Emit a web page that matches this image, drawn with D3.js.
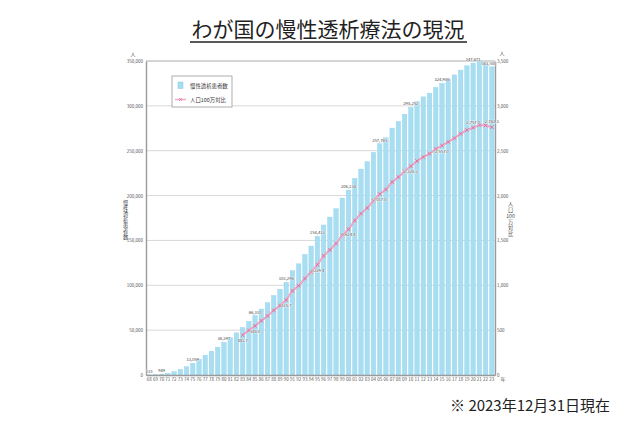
<!DOCTYPE html>
<html><head><meta charset="utf-8">
<script src="https://cdn.jsdelivr.net/npm/d3@7"></script>
<style>
body{margin:0;background:#fff;}
text{font-family:"Noto Sans CJK JP","Noto Sans",sans-serif;}
</style></head>
<body><svg id="c" width="640" height="427"></svg>
<script>
const years = d3.range(1968, 2024);
const patients = [215, 560, 949, 1800, 3600, 6200, 9300, 13059, 17500, 22000, 26500, 31000, 36397, 41500, 47000,
  53017, 59811, 66310, 73537, 80553, 88534, 95500, 103296, 116303, 123926, 134298, 143709, 154413, 167192, 175988,
  185322, 197213, 206134, 219183, 229538, 237710, 248166, 257765, 264473, 275242, 282622, 290661, 298252, 304856,
  310007, 314180, 320448, 324986, 329609, 334505, 339841, 344640, 347671, 349700, 347474, 343508];
const rateYears = d3.range(1983, 2024);
const perMillion = [443.7, 497.2, 548.0, 604.2, 658.7, 721.0, 774.5, 835.7, 937.9, 995.4, 1075.2, 1146.9, 1229.4,
  1328.0, 1394.5, 1465.0, 1556.5, 1624.4, 1721.8, 1800.3, 1861.5, 1941.8, 2017.0, 2067.8, 2150.3, 2206.3, 2270.8,
  2328.3, 2385.4, 2429.5, 2466.1, 2519.3, 2557.0, 2597.4, 2640.1, 2688.6, 2731.0, 2757.0, 2786.5, 2782.0, 2761.3];
const barLabelYears = [1968, 1970, 1975, 1980, 1985, 1990, 1995, 2000, 2005, 2010, 2015, 2020, 2023];
const lineLabelYears = [1983, 1985, 1990, 1995, 2000, 2005, 2010, 2015, 2020, 2023];
const leftTicks = [0, 50000, 100000, 150000, 200000, 250000, 300000, 350000];
const rightTicks = [0, 500, 1000, 1500, 2000, 2500, 3000, 3500];
const leftTitle = "慢性透析患者数";
const rightTitle = ["人", "口", "100", "万", "対", "比"];

const svg = d3.select("#c");
const X0 = 146, X1 = 495, Y0 = 375, Y1 = 61;
const x = d3.scaleBand().domain(years).range([X0, X1]).paddingInner(0.28).paddingOuter(0.15);
const yL = d3.scaleLinear().domain([0, 350000]).range([Y0, Y1]);
const yR = d3.scaleLinear().domain([0, 3500]).range([Y0, Y1]);

// title
svg.append("text").attr("x", 328).attr("y", 37).attr("text-anchor", "middle")
  .attr("font-size", 21).attr("fill", "#222").text("わが国の慢性透析療法の現況");
svg.append("line").attr("x1", 190).attr("x2", 467).attr("y1", 42).attr("y2", 42)
  .attr("stroke", "#222").attr("stroke-width", 1.3);

// gridlines
svg.append("g").selectAll("line").data(leftTicks.filter(d => d > 0)).join("line")
  .attr("x1", X0).attr("x2", X1).attr("y1", d => yL(d)).attr("y2", d => yL(d))
  .attr("stroke", d => d === 350000 ? "#aaa" : "#d9d9d9").attr("stroke-width", 1);

// bars
svg.append("g").selectAll("rect").data(years).join("rect")
  .attr("x", d => x(d)).attr("width", x.bandwidth())
  .attr("y", (d, i) => yL(patients[i])).attr("height", (d, i) => Y0 - yL(patients[i]))
  .attr("fill", "#a8def2").attr("stroke", "#92d2ec").attr("stroke-width", 0.4);

// axes
const axL = svg.append("g").attr("transform", `translate(${X0},0)`)
  .call(d3.axisLeft(yL).tickValues(leftTicks).tickSize(0).tickPadding(3).tickFormat(d3.format(",")));
const axR = svg.append("g").attr("transform", `translate(${X1},0)`)
  .call(d3.axisRight(yR).tickValues(rightTicks).tickSize(0).tickPadding(2).tickFormat(d3.format(",")));
const axB = svg.append("g").attr("transform", `translate(0,${Y0})`)
  .call(d3.axisBottom(x).tickSize(0).tickPadding(3).tickFormat(d => String(d).slice(2)));
[axL, axR, axB].forEach(a => {
  a.select(".domain").attr("stroke", "#9a9a9a").attr("stroke-width", 1.4);
  a.selectAll("text").attr("font-size", 4.5).attr("fill", "#555");
});

// line
const pts = rateYears.map((yr, i) => [x(yr) + x.bandwidth() / 2, yR(perMillion[i])]);
svg.append("path").attr("d", d3.line()(pts)).attr("fill", "none")
  .attr("stroke", "#eea9c6").attr("stroke-width", 2.2);
svg.append("g").selectAll("path").data(pts).join("path")
  .attr("d", d => `M${d[0]-1.8},${d[1]-1.8}L${d[0]+1.8},${d[1]+1.8}M${d[0]-1.8},${d[1]+1.8}L${d[0]+1.8},${d[1]-1.8}`)
  .attr("stroke", "#d66f9c").attr("stroke-width", 0.9);

// bar labels
svg.append("g").selectAll("text").data(barLabelYears).join("text")
  .attr("x", d => x(d) + x.bandwidth() / 2 - (d === 2023 ? 3 : 0))
  .attr("y", d => yL(patients[years.indexOf(d)]) - 2)
  .attr("text-anchor", "middle").attr("font-size", 4.2).attr("fill", "#444")
  .attr("stroke", "#fff").attr("stroke-width", 0.6).attr("paint-order", "stroke")
  .text(d => d3.format(",")(patients[years.indexOf(d)]));

// line labels
svg.append("g").selectAll("text").data(lineLabelYears).join("text")
  .attr("x", d => x(d) + x.bandwidth() / 2)
  .attr("y", d => {
    const v = yR(perMillion[rateYears.indexOf(d)]);
    return d >= 2020 ? v - 4 : v + 7;
  })
  .attr("text-anchor", "middle").attr("font-size", 4.2).attr("fill", "#444")
  .attr("stroke", "#fff").attr("stroke-width", 0.6).attr("paint-order", "stroke")
  .text(d => d3.format(",.1f")(perMillion[rateYears.indexOf(d)]));

// units
svg.append("text").attr("x", 133).attr("y", 56).attr("text-anchor", "middle")
  .attr("font-size", 5).attr("fill", "#555").text("人");
svg.append("text").attr("x", 502).attr("y", 55).attr("text-anchor", "middle")
  .attr("font-size", 5).attr("fill", "#555").text("人");
svg.append("text").attr("x", 503).attr("y", 381).attr("text-anchor", "middle")
  .attr("font-size", 5).attr("fill", "#555").text("年");

// axis titles (stacked vertical)
svg.append("g").selectAll("text").data(leftTitle.split("")).join("text")
  .attr("x", 125.5).attr("y", (d, i) => 205 + i * 5.6).attr("text-anchor", "middle")
  .attr("font-size", 5.2).attr("fill", "#444").text(d => d);
svg.append("g").selectAll("text").data(rightTitle).join("text")
  .attr("x", 510.5).attr("y", (d, i) => 206 + i * 6).attr("text-anchor", "middle")
  .attr("font-size", 5.2).attr("fill", "#444").text(d => d);

// legend
const lg = svg.append("g");
lg.append("rect").attr("x", 172).attr("y", 76).attr("width", 60).attr("height", 31)
  .attr("fill", "#fff").attr("stroke", "#9a9a9a").attr("stroke-width", 0.8);
lg.append("rect").attr("x", 178).attr("y", 82).attr("width", 5).attr("height", 6.5)
  .attr("fill", "#a8def2").attr("stroke", "#7fc6e6").attr("stroke-width", 0.5);
lg.append("text").attr("x", 190).attr("y", 87.5).attr("font-size", 5.4).attr("fill", "#333").text("慢性透析患者数");
lg.append("line").attr("x1", 175).attr("x2", 186).attr("y1", 99.5).attr("y2", 99.5)
  .attr("stroke", "#eea9c6").attr("stroke-width", 1.5);
lg.append("path").attr("d", "M179,98L182,101M179,101L182,98").attr("stroke", "#d66f9c").attr("stroke-width", 0.7);
lg.append("text").attr("x", 190).attr("y", 101.5).attr("font-size", 5.4).attr("fill", "#333").text("人口100万対比");

// footnote
svg.append("text").attr("x", 610).attr("y", 411).attr("text-anchor", "end")
  .attr("font-size", 15).attr("fill", "#222").text("※ 2023年12月31日現在");
</script></body></html>
